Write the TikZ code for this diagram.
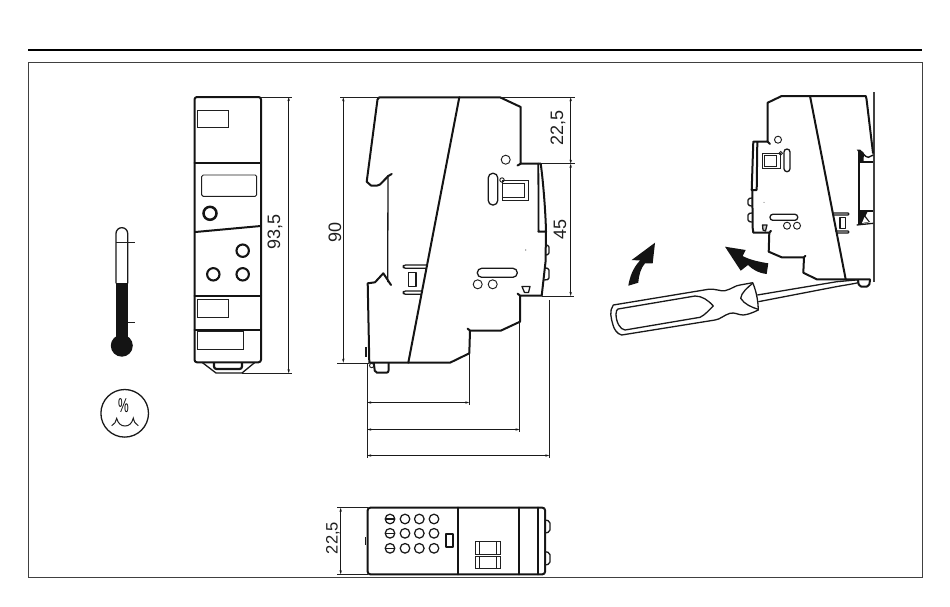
\documentclass[tikz,border=0pt]{standalone}
\usepackage{fontspec}
\setmainfont{Liberation Sans}
\usetikzlibrary{arrows.meta}
\tikzset{
 thickl/.style={line width=2pt,line join=round,line cap=round,draw=black!92},
 medl/.style={line width=1.3pt,line join=round,draw=black!90},
 thinl/.style={line width=0.95pt,draw=black!88},
 dimline/.style={line width=0.8pt,draw=black!90,{Stealth[length=4pt,width=2.4pt]}-{Stealth[length=4pt,width=2.4pt]}},
 dimtext/.style={font=\fontsize{18}{18}\selectfont,text=black!88,inner sep=0pt,rotate=90},
 pt/.style={inner sep=0pt,minimum size=0pt,outer sep=0pt},
}
\begin{document}
\begin{tikzpicture}[x=1pt,y=-1pt]
\useasboundingbox (0,0) rectangle (950,606);
% frame
\draw[line width=1.8pt,black] (28,50) -- (922,50);
\draw[line width=0.8pt,black!75] (28,62) rectangle (922,577);

% thermometer
\fill[black!92] (116,283.3) rectangle (127.7,345);
\fill[black!92] (121.8,345.7) circle[radius=11];
\draw[medl] (116,283.3) -- (116,233.5) arc[start angle=180,end angle=360,radius=5.85] -- (127.7,283.3);
\draw[thinl] (116,242) -- (135.3,242) (127.7,322.3) -- (135.3,322.3);
% humidity
\draw[medl] (124.7,413.3) circle[radius=23.8];
\node[inner sep=0pt,font=\fontsize{20}{20}\selectfont,xscale=0.6] (pct) at (123.5,405.5) {\%};
\draw[thinl,line width=1pt] (111.7,425.7) .. controls (114.5,424.5) and (116,421.5) .. (116.7,418.3) .. controls (118,423.5) and (121,426) .. (125,426) .. controls (129,426) and (132,423.5) .. (133.3,418) .. controls (134,421.5) and (135.5,424.5) .. (138.3,425.7);

% front view
\draw[thickl,rounded corners=2.5pt] (194.5,97) rectangle (261,362.3);
\draw[thickl] (194.5,162.7) -- (261,162.7) (194.5,295.7) -- (261,295.7) (194.5,330.3) -- (261,330.3);
\draw[thickl] (195.3,232) -- (260.7,226);
\draw[thinl] (197.3,110.3) rectangle (228.3,127.3) (197.3,299.3) rectangle (228.3,317.3) (197.3,331.7) rectangle (243.7,349.3);
\draw[thinl,rounded corners=1.5pt] (201.7,175) rectangle (256.7,196.3);
\draw[line width=2.5pt,black!92] (210,213.3) circle[radius=6.5];
\draw[line width=2.1pt,black!92] (242.7,250.7) circle[radius=6.2] (213.3,274.3) circle[radius=6.2] (242.7,274.3) circle[radius=6.2];
\draw[medl] (202,362.3) -- (216,373) -- (242,373) -- (255,362.3);
\draw[line width=2.2pt,black!92,rounded corners=2.5pt] (214,363) -- (214,369) -- (242,369) -- (242,363);
% dim 93,5
\draw[thinl] (261,97) -- (291.5,97) (242,373.3) -- (291.5,373.3);
\node[pt] (f1) at (288.7,97) {};
\node[pt] (f2) at (288.7,373.3) {};
\draw[dimline] (f1) -- (f2);
\node[dimtext] (t935) at (275,232) {93,5};

% side view
\draw[thickl] (391.7,174) -- (388.3,176) -- (380,184.5) -- (376.7,185.7) -- (371,185.5) -- (366.7,181.7) -- (377.5,99.5) -- (379.3,97.3) -- (500,97.3) -- (520.7,107) -- (520.7,163.7) -- (538.3,163.7);
\draw[thickl] (517.5,165.5) -- (520.7,163.7);
\draw[line width=1.8pt,black!92] (538.3,163.7) -- (538.6,231.5);
\draw[thickl] (538.3,163.7) -- (540.7,163.7) .. controls (543,180) and (545.5,210) .. (546,231.7) -- (538.3,231.7);
\draw[thickl] (546,231.7) -- (545.5,262) -- (541.7,295.7) -- (520,295.7) -- (520,321.7) -- (500.7,330.7) -- (470,330.7) -- (469.3,353.3) -- (450,362.7) -- (369.3,362.7) -- (367.7,283.3) -- (375,282.3) -- (383.3,273.3) -- (391,285);
\draw[medl] (388,175) -- (387.7,282);
\draw[thickl] (517.5,293.5) -- (520,295.7) (467.5,328.5) -- (470,330.7);
\draw[thickl] (459.3,97.3) -- (408.3,362.7);
\draw[thickl,rounded corners=2pt] (373.8,363) -- (375,372.7) -- (388.5,372.7) -- (388.5,363);
\draw[thinl] (371.7,365.5) circle[radius=2.2];
\draw[medl] (366,347) -- (366,357);
% latch
\draw[medl,rounded corners=1.5pt] (426.7,265) -- (404,265) -- (402.7,266.6) -- (404,268.3) -- (426,268.3);
\draw[medl,rounded corners=1.5pt] (421.7,291) -- (404,291) -- (402.7,292.6) -- (404,294.3) -- (421,294.3);
\draw[medl] (408.3,272.7) rectangle (416,286.7);
% side details
\draw[medl,rounded corners=4.4pt] (477.3,268.3) rectangle (517.3,277.3);
\draw[thinl] (477.7,284.3) circle[radius=4.5] (492.7,284.3) circle[radius=4.5];
\draw[medl] (522,286.5) -- (530,286.5) -- (528.5,292.5) -- (524.5,292.5) -- cycle;
\fill[black!70] (525.7,250) circle[radius=0.6];
\draw[thinl] (505.7,159.7) circle[radius=4.5];
\draw[medl,rounded corners=4.4pt] (488.3,173.3) rectangle (497.7,205);
\draw[thinl] (502.3,180.7) rectangle (528.7,200.3) (502.3,183.7) rectangle (524,197.7);
\draw[thinl] (502,180) circle[radius=2.2];
\draw[medl,rounded corners=1.5pt] (546,245) -- (549,245.5) -- (549,254.5) -- (545.5,255);
\draw[medl,rounded corners=1.5pt] (545.5,268) -- (549,268.5) -- (549,279.5) -- (544,280);
% side dims
\node[pt] (s1) at (343.3,97.3) {};
\node[pt] (s2) at (343.3,362.7) {};
\draw[thinl] (340,97.3) -- (380,97.3) (337.3,363.3) -- (369,363.3);
\draw[dimline] (s1) -- (s2);
\node[dimtext] (t90) at (335,232) {90};
\node[pt] (r1) at (570.7,97.3) {};
\node[pt] (r2) at (570.7,163.7) {};
\node[pt] (r3) at (570.7,296) {};
\draw[thinl] (500,97.3) -- (574.5,97.3) (538,163.7) -- (574.5,163.7) (541.7,296) -- (574,296);
\draw[dimline] (r1) -- (r2);
\draw[dimline] (r2) -- (r3);
\node[dimtext] (t225) at (558,128) {22,5};
\node[dimtext] (t45) at (560,229) {45};
% bottom dims
\draw[thinl] (367.3,364) -- (367.3,458) (469.3,353) -- (469.3,405) (519.5,322) -- (519.5,432) (549.3,300) -- (549.3,458);
\node[pt] (b0a) at (367.3,402.5) {};
\node[pt] (b0b) at (367.3,429.5) {};
\node[pt] (b0c) at (367.3,455.5) {};
\node[pt] (b1) at (469.3,402.5) {};
\node[pt] (b2) at (519.5,429.5) {};
\node[pt] (b3) at (549.3,455.5) {};
\draw[dimline] (b0a) -- (b1);
\draw[dimline] (b0b) -- (b2);
\draw[dimline] (b0c) -- (b3);

% top view
\draw[thickl,rounded corners=2.5pt] (367.7,507.7) rectangle (545,574.3);
\draw[thickl] (458.3,507.7) -- (458.3,574.3) (519.3,507.7) -- (519.3,574.3) (537.7,507.7) -- (537.7,574.3);
\draw[thinl] (544,507.7) -- (544,574.3);
\draw[medl,rounded corners=2pt] (545,520) -- (550,521) -- (550,532) -- (545,533);
\draw[medl,rounded corners=2pt] (545,551.7) -- (550,552.7) -- (550,564) -- (545,565);
\draw[medl] (365.7,537) -- (365.7,545);
\foreach \yy in {519,533.3,548.3}{
  \foreach \xx in {390,405,419.3,434}{
    \draw[line width=1.25pt,black!90] (\xx,\yy) circle[radius=4.8];
  }
  \draw[line width=1.25pt,black!90] (385.5,\yy) -- (394.5,\yy);
}
\draw[thickl] (446,534) rectangle (453.3,547.3);
\draw[thinl] (475.7,541.7) rectangle (500.3,554) (475.7,556.7) rectangle (500.3,568.3);
\draw[thinl] (496,541.7) -- (496,554) (496,556.7) -- (496,568.3);
\draw[medl] (479.3,541.7) -- (479.3,554) (479.3,556.7) -- (479.3,568.3);
\node[pt] (d1) at (340.7,507.7) {};
\node[pt] (d2) at (340.7,574.3) {};
\draw[thinl] (337,507.7) -- (368,507.7) (337,574.3) -- (368,574.3);
\draw[dimline] (d1) -- (d2);
\node[dimtext,font=\fontsize{16.5}{16.5}\selectfont] (t225b) at (333,538) {22,5};

% mounted view
\draw[line width=1.9pt,black!75] (873.7,92) -- (873.7,282);
\draw[thickl] (781.7,96) -- (865.7,96) -- (866.5,99) -- (873,153);
\draw[thickl] (781.7,96) -- (767.7,102.7) -- (767.7,141.7) -- (753.3,141.7) -- (751.7,190) -- (756.7,190) -- (757.3,142.3);
\draw[thickl] (770,144) -- (767.7,141.7);
\draw[thickl] (752.3,190) -- (752.7,228) -- (753.3,232.7) -- (769.3,232.7) -- (768.7,251.7) -- (781.7,257.3) -- (804,257.3) -- (803.3,272.7) -- (816.7,279.3) -- (870,279.3);
\draw[thickl] (805.5,255.8) -- (804,257.3) (771,230.8) -- (769.3,232.7);
\draw[thickl] (810,96) -- (845.7,279.3);
\draw[thickl,rounded corners=2pt] (858,280) -- (859,286.5) -- (869,286.5) -- (870,280);
\draw[thinl] (778,139.7) circle[radius=3.5];
\draw[medl,rounded corners=3pt] (784,149) rectangle (790,171.7);
\draw[thinl] (762.3,153.3) rectangle (780,168.3) (764,155) rectangle (776,166.5);
\draw[thinl] (780.7,153.3) circle[radius=1.8];
\draw[medl,rounded corners=2.8pt] (770,214.3) rectangle (797.7,220.3);
\draw[thinl] (787,225.7) circle[radius=3.5] (797,225.7) circle[radius=3.5];
\draw[medl,fill=black!20] (762.5,225) -- (767,225) -- (765.5,231) -- (763,230) -- cycle;
\fill[black!70] (764,202.3) circle[radius=0.5];
\draw[medl,rounded corners=1.5pt] (752,198) -- (748,198.5) -- (748,205.5) -- (752,206);
\draw[medl,rounded corners=1.5pt] (752,213) -- (748,213.5) -- (748,221.5) -- (752,222);
% latch
\draw[medl,rounded corners=1pt] (833.3,213) -- (849,213) -- (849,215) -- (834,215);
\draw[medl,rounded corners=1pt] (835,231) -- (849,231) -- (849,233) -- (836,233);
\draw[medl] (840,217.3) rectangle (845.7,228.3);
% rail clip
\fill[black!92] (856.7,149.5) -- (860,149.5) -- (864,153) -- (863.5,161) -- (859,161) -- (859,153) -- cycle;
\draw[line width=1.4pt,black!92] (862.7,153.3) .. controls (865,156) and (867,157.5) .. (868.3,157.3) -- (873.3,155);
\draw[line width=2.2pt,black!92] (859,150) -- (859,225);
\draw[line width=1.8pt,black!92] (860,161.7) -- (873.3,161.7) (860,210.7) -- (873.3,210.7);
\draw[line width=1.3pt,black!92] (856.7,225) -- (873.3,223.3);
\fill[black!92] (860,210.7) -- (868,210.7) -- (865.5,216) -- (870,222) -- (861,224) -- (859.5,224) -- cycle;
\fill[white] (864.5,217) -- (868.5,222) -- (862,223) -- cycle;

% screwdriver
\draw[medl,fill=white] (613.3,305) -- (708.3,289.3) .. controls (716,288.5) and (720,291.5) .. (725,290.7) .. controls (732,289) and (735,285.5) .. (740,285) -- (752.7,282.7) .. controls (757,293) and (758,302) .. (758.3,310) .. controls (752,313) and (748,314.5) .. (743.3,315) .. controls (738,315) and (735,312) .. (730,313.3) .. controls (724,315) and (720,319.5) .. (715,320) -- (621.7,335) .. controls (617,334) and (614,329) .. (613,325) .. controls (611,318) and (609,311) .. (613.3,305) -- cycle;
\draw[medl] (618,309) -- (695,296) .. controls (702,296) and (708,300) .. (713.3,306) .. controls (709,310) and (705,315) .. (700,317.3) -- (625,330) .. controls (620,329.5) and (616,322) .. (616,314) .. controls (616,311) and (617,309.5) .. (618,309) -- cycle;
\draw[medl] (752.7,283.3) .. controls (748,287) and (741,293) .. (740.7,298.3) .. controls (744,304) and (752,307.5) .. (758.3,309.3);
\draw[medl] (757.3,295) -- (836.7,281.7) -- (858,279.8);
\draw[medl] (758.3,301.7) -- (833,287.3) .. controls (842,285.5) and (850,284.5) .. (858.3,282.7);
% arrows
\fill[black!92] (655,242.7) -- (631.7,260) -- (640,260.5) .. controls (633,268) and (630,276) .. (628.3,285.7) -- (638.3,282.7) .. controls (639,274) and (641,268) .. (645,263.3) -- (652.7,263.3) -- cycle;
\fill[black!92] (725,246.7) -- (745.7,250) -- (742.7,256) .. controls (750,260) and (760,262) .. (768.3,263.3) -- (766.7,274) .. controls (758,273) and (752,269) .. (748,265) -- (740.7,270.7) -- cycle;
\end{tikzpicture}
\end{document}
